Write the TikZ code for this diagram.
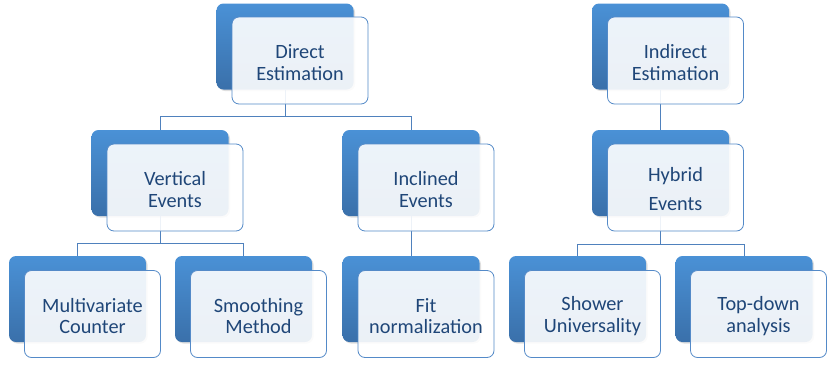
\documentclass[tikz,border=0pt]{standalone}
\usepackage{fontspec}
\setmainfont{Carlito}
\usetikzlibrary{shadows}
\definecolor{backtop}{RGB}{74,145,214}
\definecolor{backbot}{RGB}{58,112,170}
\definecolor{frameblue}{RGB}{84,138,200}
\definecolor{lineblue}{RGB}{79,129,189}
\definecolor{txtblue}{RGB}{31,70,120}
\tikzset{
  backbox/.style={rectangle, rounded corners=7pt, minimum width=137pt, minimum height=86pt,
    top color=backtop, bottom color=backbot, draw=none,
    drop shadow={opacity=0.25, shadow xshift=1.5pt, shadow yshift=-1.5pt}},
  frontbox/.style={rectangle, rounded corners=7pt, minimum width=136pt, minimum height=87pt,
    draw=frameblue, line width=0.8pt, fill=white, fill opacity=0.9, inner sep=0pt},
  lbl/.style={text=txtblue, align=center, font=\fontsize{20.3}{21.5}\selectfont, inner sep=0pt},
  conn/.style={draw=lineblue, line width=0.9pt}
}
\begin{document}
\begin{tikzpicture}[x=1pt,y=-1pt]
\useasboundingbox (0,0) rectangle (827,370);
% back boxes
\node[backbox] (dB) at (285,46.5) {};
\node[backbox] (iB) at (660.5,46.5) {};
\node[backbox] (vB) at (160,173) {};
\node[backbox] (cB) at (411,173) {};
\node[backbox] (hB) at (660.5,173) {};
\node[backbox] (mB) at (77.5,299) {};
\node[backbox] (sB) at (243.5,299) {};
\node[backbox] (fB) at (411,299) {};
\node[backbox] (uB) at (577.5,299) {};
\node[backbox] (tB) at (744,299) {};
% connectors
\coordinate (dJ) at (285,116.5);
\coordinate (vJ) at (160,243.5);
\coordinate (hJ) at (660.5,244);
\draw[conn] (dB.south) -- (dJ);
\draw[conn] (dJ) -| (vB.north);
\draw[conn] (dJ) -| (cB.north);
\draw[conn] (iB.south) -- (hB.north);
\draw[conn] (vB.south) -- (vJ);
\draw[conn] (vJ) -| (mB.north);
\draw[conn] (vJ) -| (sB.north);
\draw[conn] (cB.south) -- (fB.north);
\draw[conn] (hB.south) -- (hJ);
\draw[conn] (hJ) -| (uB.north);
\draw[conn] (hJ) -| (tB.north);
% front boxes
\node[frontbox] (dF) at (300,60.5) {};
\node[frontbox] (iF) at (675.5,60.5) {};
\node[frontbox] (vF) at (175,187.5) {};
\node[frontbox] (cF) at (426,187.5) {};
\node[frontbox] (hF) at (675.5,187.5) {};
\node[frontbox] (mF) at (92.5,314) {};
\node[frontbox] (sF) at (258.5,314) {};
\node[frontbox] (fF) at (426,314) {};
\node[frontbox] (uF) at (592.5,314) {};
\node[frontbox] (tF) at (758.5,314) {};
% labels
\node[lbl] (dT) at ([yshift=-2pt]dF.center) {Direct\\Estimation};
\node[lbl] (iT) at ([yshift=-2pt]iF.center) {Indirect\\Estimation};
\node[lbl] (vT) at ([yshift=-2pt]vF.center) {Vertical\\Events};
\node[lbl] (cT) at ([yshift=-2pt]cF.center) {Inclined\\Events};
\node[lbl, font=\fontsize{20.3}{29}\selectfont] (hT) at ([yshift=-2pt]hF.center) {Hybrid\\Events};
\node[lbl] (mT) at ([yshift=-2pt]mF.center) {Multivariate\\Counter};
\node[lbl] (sT) at ([yshift=-2pt]sF.center) {Smoothing\\Method};
\node[lbl] (fT) at ([yshift=-2pt]fF.center) {Fit\\normalization};
\node[lbl] (uT) at ([yshift=-2pt]uF.center) {Shower\\Universality};
\node[lbl] (tT) at ([yshift=-2pt]tF.center) {Top-down\\analysis};
\end{tikzpicture}
\end{document}
